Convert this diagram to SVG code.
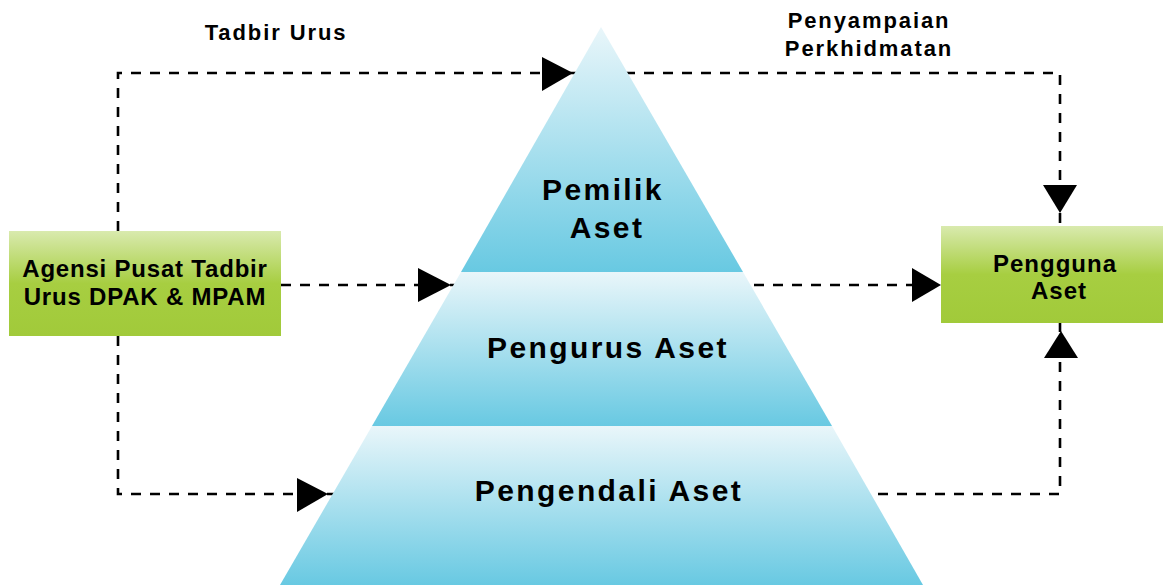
<svg xmlns="http://www.w3.org/2000/svg" width="1163" height="585" viewBox="0 0 1163 585">
<defs>
<linearGradient id="blue" x1="0" y1="0" x2="0" y2="1">
<stop offset="0" stop-color="#e9f6fa"/>
<stop offset="1" stop-color="#68c9e2"/>
</linearGradient>
<linearGradient id="green" x1="0" y1="0" x2="0" y2="1">
<stop offset="0" stop-color="#d9eaae"/>
<stop offset="0.5" stop-color="#a7ce41"/>
<stop offset="1" stop-color="#a1ca3a"/>
</linearGradient>
<style>
.dash{fill:none;stroke:#000;stroke-width:2.6;stroke-dasharray:10 9}
.arr{fill:#000}
.t{font-family:"Liberation Sans",Arial,sans-serif;font-weight:bold;fill:#000;text-anchor:middle}
.pt{font-size:30px;letter-spacing:2.4px}
.lbl{font-size:22px;letter-spacing:1.9px}
.bx{font-size:24px;letter-spacing:0.8px}
</style>
</defs>
<rect width="1163" height="585" fill="#fff"/>
<g id="connectors">
<path class="dash" d="M118 231 V73 H1060 V185"/>
<path class="dash" d="M118 336 V494 H297"/>
<path class="dash" d="M327 494 H1060 V358"/>
<path class="dash" d="M281 285 H418"/>
<path class="dash" d="M450 285 H912"/>
<path class="dash" d="M1060 213 V226"/>
<path class="dash" d="M1060 323 V332"/>
<polygon class="arr" points="542,57 573,73 542,91"/>
<polygon class="arr" points="418,268 451,285 418,302"/>
<polygon class="arr" points="297,478 328,494 297,512"/>
<polygon class="arr" points="912,268 941,285 912,302"/>
<polygon class="arr" points="1043,185 1077,185 1060,213"/>
<polygon class="arr" points="1044,358 1078,358 1061,331"/>
</g>
<g id="pyramid-top">
<polygon points="601,27 743,272 461,272" fill="url(#blue)"/>
<text class="t pt" x="603" y="200">Pemilik</text>
<text class="t pt" x="607" y="238">Aset</text>
</g>
<g id="pyramid-middle">
<polygon points="461,272 743,272 832,426 372,426" fill="url(#blue)"/>
<text class="t pt" x="608" y="358">Pengurus Aset</text>
</g>
<g id="pyramid-bottom">
<polygon points="372,426 832,426 923,585 280,585" fill="url(#blue)"/>
<text class="t pt" x="609" y="501">Pengendali Aset</text>
</g>
<g id="agensi">
<rect x="9" y="231" width="272" height="105" fill="url(#green)"/>
<text class="t bx" x="145" y="277">Agensi Pusat Tadbir</text>
<text class="t bx" x="145" y="305">Urus DPAK &amp; MPAM</text>
</g>
<g id="pengguna">
<rect x="941" y="226" width="222" height="97" fill="url(#green)"/>
<text class="t bx" x="1055" y="272" style="letter-spacing:1px">Pengguna</text>
<text class="t bx" x="1059" y="299" style="letter-spacing:1px">Aset</text>
</g>
<g id="labels">
<text class="t lbl" x="276" y="40">Tadbir Urus</text>
<text class="t lbl" x="869" y="28">Penyampaian</text>
<text class="t lbl" x="869" y="56">Perkhidmatan</text>
</g>
</svg>
